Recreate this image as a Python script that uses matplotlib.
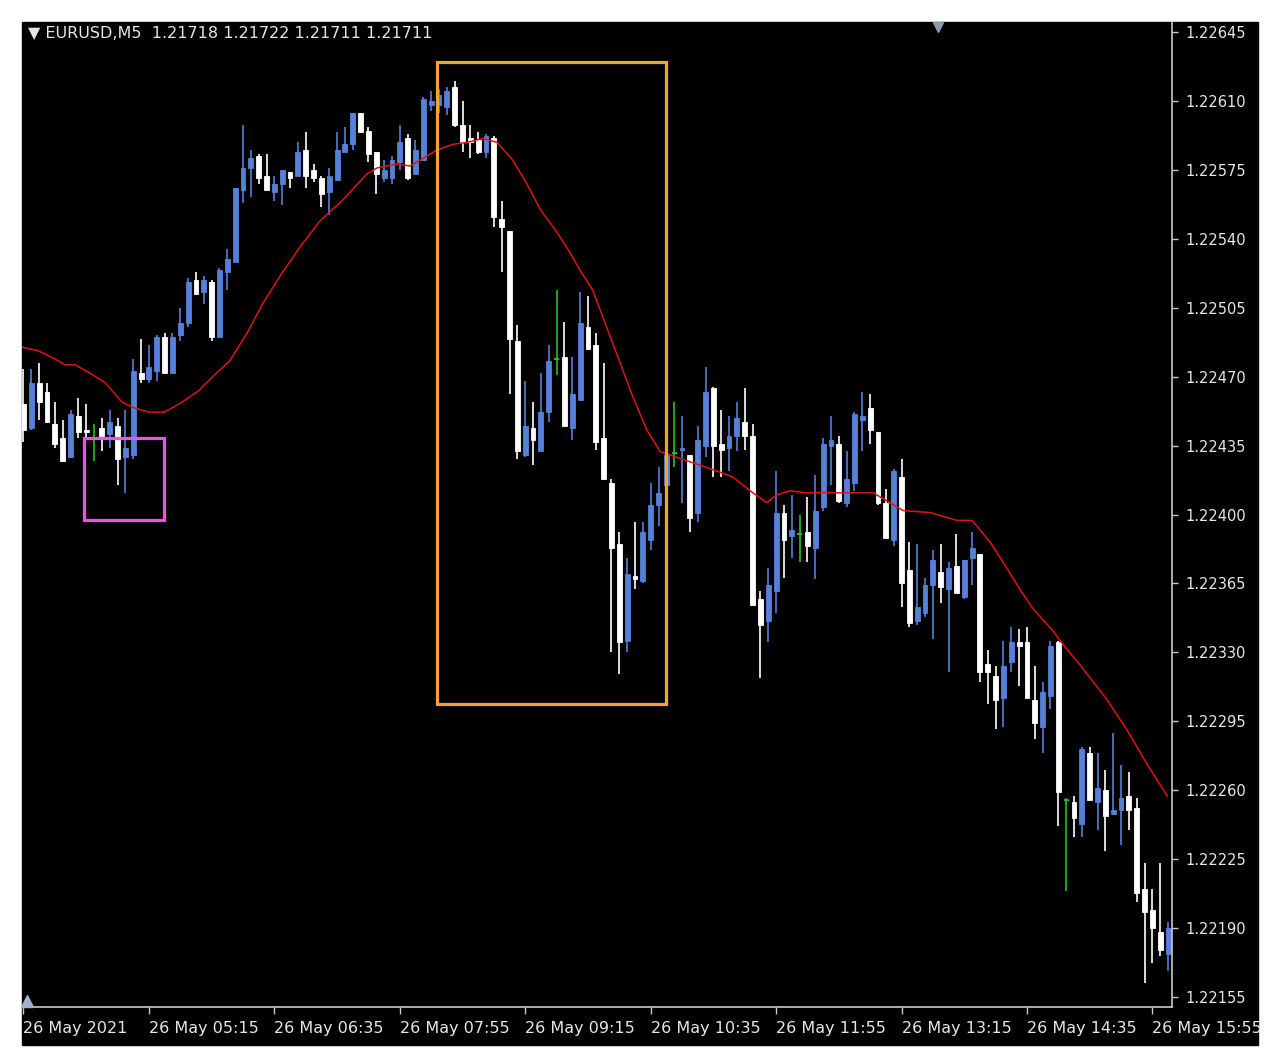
import matplotlib.pyplot as plt
import matplotlib.patches as mpatches

# EURUSD M5 candles, 26 May 2021 03:55 .. 16:05
opens = [
    1.22456, 1.22444, 1.22467, 1.22462, 1.22446, 1.22439, 1.22429, 1.22450, 1.22443, 1.22439,
    1.22444, 1.22441, 1.22445, 1.22429, 1.22430, 1.22472, 1.22469, 1.22473, 1.22490, 1.22472,
    1.22491, 1.22497, 1.22519, 1.22513, 1.22518, 1.22490, 1.22523, 1.22528, 1.22565, 1.22576,
    1.22582, 1.22572, 1.22564, 1.22568, 1.22574, 1.22572, 1.22585, 1.22575, 1.22571, 1.22564,
    1.22570, 1.22584, 1.22588, 1.22604, 1.22595, 1.22584, 1.22571, 1.22571, 1.22579, 1.22591,
    1.22573, 1.22580, 1.22608, 1.22608, 1.22607, 1.22617, 1.22598, 1.22591, 1.22590, 1.22584,
    1.22591, 1.22550, 1.22544, 1.22488, 1.22430, 1.22444, 1.22432, 1.22452, 1.22479, 1.22480,
    1.22444, 1.22458, 1.22495, 1.22486, 1.22439, 1.22416, 1.22385, 1.22336, 1.22369, 1.22366,
    1.22387, 1.22405, 1.22415, 1.22431, 1.22433, 1.22430, 1.22401, 1.22435, 1.22464, 1.22436,
    1.22434, 1.22440, 1.22447, 1.22440, 1.22357, 1.22346, 1.22361, 1.22401, 1.22389, 1.22390,
    1.22391, 1.22383, 1.22404, 1.22435, 1.22436, 1.22406, 1.22416, 1.22448, 1.22454, 1.22442,
    1.22406, 1.22387, 1.22419, 1.22372, 1.22346, 1.22350, 1.22364, 1.22371, 1.22362, 1.22374,
    1.22358, 1.22378, 1.22380, 1.22324, 1.22318, 1.22307, 1.22325, 1.22335, 1.22335, 1.22306,
    1.22292, 1.22308, 1.22335, 1.22255, 1.22254, 1.22243, 1.22279, 1.22254, 1.22260, 1.22248,
    1.22250, 1.22257, 1.22251, 1.22210, 1.22199, 1.22188, 1.22177,
]
highs = [
    1.22474, 1.22474, 1.22477, 1.22467, 1.22457, 1.22448, 1.22453, 1.22459, 1.22456, 1.22446,
    1.22449, 1.22453, 1.22449, 1.22453, 1.22479, 1.22489, 1.22486, 1.22491, 1.22492, 1.22492,
    1.22505, 1.22520, 1.22523, 1.22521, 1.22519, 1.22525, 1.22535, 1.22566, 1.22598, 1.22585,
    1.22583, 1.22583, 1.22572, 1.22575, 1.22574, 1.22589, 1.22594, 1.22578, 1.22572, 1.22576,
    1.22594, 1.22597, 1.22604, 1.22604, 1.22597, 1.22584, 1.22580, 1.22582, 1.22598, 1.22593,
    1.22590, 1.22612, 1.22615, 1.22616, 1.22617, 1.22620, 1.22610, 1.22598, 1.22594, 1.22593,
    1.22592, 1.22559, 1.22544, 1.22496, 1.22468, 1.22457, 1.22472, 1.22486, 1.22514, 1.22498,
    1.22480, 1.22513, 1.22511, 1.22492, 1.22477, 1.22418, 1.22391, 1.22378, 1.22396, 1.22396,
    1.22416, 1.22424, 1.22432, 1.22457, 1.22450, 1.22430, 1.22445, 1.22475, 1.22465, 1.22453,
    1.22450, 1.22457, 1.22464, 1.22446, 1.22361, 1.22373, 1.22422, 1.22405, 1.22410, 1.22400,
    1.22409, 1.22420, 1.22439, 1.22450, 1.22440, 1.22432, 1.22452, 1.22462, 1.22461, 1.22442,
    1.22413, 1.22423, 1.22428, 1.22386, 1.22385, 1.22368, 1.22382, 1.22385, 1.22376, 1.22390,
    1.22377, 1.22391, 1.22380, 1.22331, 1.22323, 1.22336, 1.22343, 1.22342, 1.22343, 1.22323,
    1.22315, 1.22336, 1.22336, 1.22256, 1.22257, 1.22282, 1.22282, 1.22279, 1.22270, 1.22289,
    1.22273, 1.22269, 1.22256, 1.22223, 1.22210, 1.22223, 1.22193,
]
lows = [
    1.22437, 1.22443, 1.22448, 1.22447, 1.22434, 1.22427, 1.22429, 1.22439, 1.22438, 1.22427,
    1.22432, 1.22434, 1.22415, 1.22411, 1.22428, 1.22467, 1.22467, 1.22468, 1.22472, 1.22472,
    1.22488, 1.22495, 1.22512, 1.22507, 1.22488, 1.22490, 1.22514, 1.22528, 1.22558, 1.22561,
    1.22568, 1.22565, 1.22559, 1.22557, 1.22566, 1.22572, 1.22566, 1.22569, 1.22556, 1.22552,
    1.22570, 1.22584, 1.22585, 1.22594, 1.22579, 1.22563, 1.22569, 1.22568, 1.22575, 1.22570,
    1.22573, 1.22580, 1.22605, 1.22604, 1.22603, 1.22597, 1.22584, 1.22581, 1.22583, 1.22581,
    1.22546, 1.22523, 1.22461, 1.22428, 1.22429, 1.22425, 1.22432, 1.22447, 1.22471, 1.22445,
    1.22438, 1.22458, 1.22484, 1.22433, 1.22418, 1.22330, 1.22319, 1.22330, 1.22362, 1.22365,
    1.22382, 1.22394, 1.22413, 1.22424, 1.22406, 1.22391, 1.22396, 1.22429, 1.22419, 1.22419,
    1.22422, 1.22432, 1.22433, 1.22354, 1.22317, 1.22335, 1.22350, 1.22368, 1.22378, 1.22376,
    1.22376, 1.22367, 1.22402, 1.22415, 1.22406, 1.22404, 1.22412, 1.22432, 1.22436, 1.22405,
    1.22388, 1.22384, 1.22353, 1.22343, 1.22344, 1.22348, 1.22337, 1.22355, 1.22320, 1.22360,
    1.22357, 1.22364, 1.22315, 1.22304, 1.22291, 1.22292, 1.22320, 1.22313, 1.22307, 1.22286,
    1.22279, 1.22301, 1.22242, 1.22209, 1.22236, 1.22236, 1.22255, 1.22240, 1.22229, 1.22248,
    1.22232, 1.22240, 1.22203, 1.22162, 1.22172, 1.22176, 1.22168,
]
closes = [
    1.22443, 1.22467, 1.22457, 1.22447, 1.22436, 1.22427, 1.22451, 1.22442, 1.22442, 1.22439,
    1.22440, 1.22447, 1.22428, 1.22434, 1.22473, 1.22469, 1.22475, 1.22490, 1.22472, 1.22490,
    1.22497, 1.22518, 1.22512, 1.22519, 1.22490, 1.22524, 1.22530, 1.22566, 1.22576, 1.22581,
    1.22571, 1.22565, 1.22568, 1.22575, 1.22571, 1.22584, 1.22572, 1.22571, 1.22563, 1.22572,
    1.22585, 1.22588, 1.22604, 1.22594, 1.22583, 1.22573, 1.22575, 1.22580, 1.22589, 1.22571,
    1.22585, 1.22611, 1.22610, 1.22613, 1.22615, 1.22598, 1.22589, 1.22589, 1.22584, 1.22592,
    1.22551, 1.22546, 1.22489, 1.22432, 1.22445, 1.22438, 1.22452, 1.22478, 1.22479, 1.22445,
    1.22461, 1.22497, 1.22484, 1.22437, 1.22418, 1.22383, 1.22335, 1.22370, 1.22367, 1.22391,
    1.22405, 1.22411, 1.22430, 1.22431, 1.22434, 1.22398, 1.22438, 1.22462, 1.22435, 1.22433,
    1.22440, 1.22449, 1.22440, 1.22354, 1.22344, 1.22364, 1.22401, 1.22387, 1.22392, 1.22390,
    1.22384, 1.22402, 1.22436, 1.22438, 1.22407, 1.22418, 1.22451, 1.22450, 1.22443, 1.22406,
    1.22388, 1.22422, 1.22365, 1.22345, 1.22353, 1.22364, 1.22377, 1.22363, 1.22373, 1.22360,
    1.22377, 1.22383, 1.22320, 1.22320, 1.22306, 1.22323, 1.22335, 1.22333, 1.22307, 1.22294,
    1.22310, 1.22333, 1.22259, 1.22255, 1.22246, 1.22281, 1.22255, 1.22261, 1.22247, 1.22250,
    1.22256, 1.22250, 1.22208, 1.22198, 1.22190, 1.22179, 1.22190,
]

# moving average (red line) at these bar positions
ma_bars = [-0.2, 2.0, 4.0, 5.3, 6.6, 8.4, 10.4, 12.6, 14.2, 16.0,
           18.0, 20.2, 22.4, 24.4, 26.3, 28.5, 30.5, 32.7, 35.3, 37.8,
           40.8, 43.8, 45.1, 47.6, 49.3, 50.6, 52.7, 54.8, 56.6, 58.6,
           60.4, 62.4, 64.2, 65.9, 68.1, 69.7, 71.0, 72.6, 74.4, 76.1,
           77.7, 79.5, 81.2, 84.1, 86.3, 88.5, 90.5, 92.7, 94.8, 96.1,
           97.8, 99.9, 108.4, 110.1, 112.2, 115.6, 119.1, 121.0, 123.3, 125.4,
           127.1, 128.8, 131.3, 132.2, 135.1, 138.2, 140.7, 143.2, 145.9]
ma_vals = [1.22485, 1.22483, 1.22479, 1.22476, 1.22476, 1.22472, 1.22467, 1.22457, 1.22454, 1.22452,
           1.22452, 1.22457, 1.22463, 1.22471, 1.22478, 1.22492, 1.22507, 1.22521, 1.22536, 1.22549,
           1.22560, 1.22573, 1.22576, 1.22578, 1.22577, 1.22580, 1.22585, 1.22588, 1.22589, 1.22591,
           1.22589, 1.22580, 1.22568, 1.22555, 1.22543, 1.22533, 1.22524, 1.22514, 1.22495, 1.22477,
           1.22460, 1.22443, 1.22432, 1.22428, 1.22425, 1.22422, 1.22419, 1.22412, 1.22406, 1.22410,
           1.22412, 1.22411, 1.22411, 1.22407, 1.22402, 1.22401, 1.22397, 1.22397, 1.22386, 1.22373,
           1.22362, 1.22352, 1.22341, 1.22336, 1.22322, 1.22306, 1.22291, 1.22274, 1.22257]

price_ticks = [1.22645, 1.22610, 1.22575, 1.22540, 1.22505, 1.22470, 1.22435,
               1.22400, 1.22365, 1.22330, 1.22295, 1.22260, 1.22225, 1.22190, 1.22155]
time_tick_bars = [0, 16, 32, 48, 64, 80, 96, 112, 128, 144]
time_labels = ["26 May 2021", "26 May 05:15", "26 May 06:35", "26 May 07:55", "26 May 09:15",
               "26 May 10:35", "26 May 11:55", "26 May 13:15", "26 May 14:35", "26 May 15:55"]

# highlight boxes: (first bar, last bar, low price, high price)
orange_box = (52.74, 81.95, 1.22304, 1.22630)
pink_box = (7.72, 17.92, 1.22397, 1.22439)

header = "\u25bc EURUSD,M5  1.21718 1.21722 1.21711 1.21711"

BULL = "#5581d9"
BEAR = "#ffffff"
DOJI = "#22c422"
TEXT = "#e6e6e6"


def candle_colors():
    cols = []
    for o, c in zip(opens, closes):
        if c > o:
            cols.append(BULL)
        elif c < o:
            cols.append(BEAR)
        else:
            cols.append(DOJI)
    return cols


fig = plt.figure(figsize=(12.72, 10.6), dpi=100, facecolor="white")

# black terminal area (chart + scales), kept behind the axes
W, H = 1272, 1060
fig.patches.append(mpatches.Rectangle((22 / W, 1 - 1045 / H), (1258 - 22) / W, (1045 - 22) / H,
                                      transform=fig.transFigure, color="black", zorder=-5))

ax = fig.add_axes([22 / W, 1 - 1007 / H, (1172 - 22) / W, (1007 - 22) / H])
ax.set_facecolor("black")

xs = list(range(len(opens)))
cols = candle_colors()

# wicks
ax.vlines(xs, lows, highs, colors=cols, linewidth=1.2, zorder=2)

# bodies
bottoms = [min(o, c) for o, c in zip(opens, closes)]
heights = [abs(c - o) for o, c in zip(opens, closes)]
ax.bar(xs, heights, bottom=bottoms, width=0.62, color=cols, edgecolor=cols,
       linewidth=0.6, zorder=2)

# doji crosses
doji = [i for i in xs if opens[i] == closes[i]]
ax.hlines([opens[i] for i in doji], [i - 0.31 for i in doji], [i + 0.31 for i in doji],
          colors=DOJI, linewidth=1.3, zorder=2)

# moving average
ax.plot(ma_bars, ma_vals, color="#e01212", linewidth=1.1, zorder=3)

# highlight boxes
for (b0, b1, p0, p1), col in [(orange_box, "#f2a52e"), (pink_box, "#ee4fee")]:
    ax.add_patch(mpatches.Rectangle((b0, p0), b1 - b0, p1 - p0, fill=False,
                                    edgecolor=col, linewidth=2.3, zorder=4))

ax.set_xlim(-0.19, 146.5)
ax.set_ylim(1.221499, 1.226501)

# scales
for side in ["top", "left"]:
    ax.spines[side].set_visible(False)
for side in ["right", "bottom"]:
    ax.spines[side].set_color("#c8c8c8")
    ax.spines[side].set_linewidth(1.2)

ax.yaxis.tick_right()
ax.set_yticks(price_ticks)
ax.set_yticklabels([f"{p:.5f}" for p in price_ticks])
ax.tick_params(axis="y", colors="#c8c8c8", labelcolor=TEXT, length=4, width=1,
               pad=6, labelsize=10.5)

ax.set_xticks(time_tick_bars)
ax.set_xticklabels(time_labels, ha="left")
ax.tick_params(axis="x", colors="#c8c8c8", labelcolor=TEXT, length=5, width=1,
               pad=5, labelsize=11.5)

# little shift markers used by the terminal
ax.plot([0.7965], [0.995], marker="v", markersize=7, color="#8a9bb0",
        transform=ax.transAxes, clip_on=False, zorder=5)
ax.plot([0.004], [0.006], marker="^", markersize=8, color="#9fb3cf",
        transform=ax.transAxes, clip_on=False, zorder=5)

fig.text(28 / W, 1 - 34 / H, header, color=TEXT, fontsize=11.5, va="center", ha="left")

plt.savefig("out.png", dpi=100, facecolor="white")
